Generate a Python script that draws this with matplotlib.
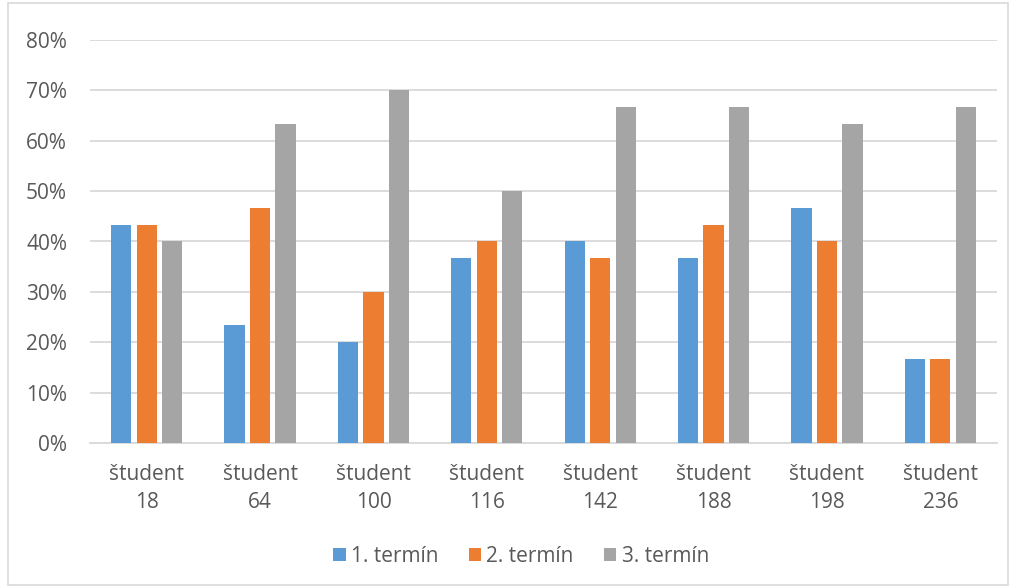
import matplotlib
matplotlib.use("Agg")
import matplotlib.pyplot as plt
from matplotlib.patches import Rectangle
import numpy as np

students = ["študent\n18", "študent\n64", "študent\n100", "študent\n116",
            "študent\n142", "študent\n188", "študent\n198", "študent\n236"]
term1 = [43.33, 23.33, 20.0, 36.67, 40.0, 36.67, 46.67, 16.67]
term2 = [43.33, 46.67, 30.0, 40.0, 36.67, 43.33, 40.0, 16.67]
term3 = [40.0, 63.33, 70.0, 50.0, 66.67, 66.67, 63.33, 66.67]
series_names = ["1. termín", "2. termín", "3. termín"]
colors = ["#5b9bd5", "#ed7d31", "#a5a5a5"]
yticks = [0, 10, 20, 30, 40, 50, 60, 70, 80]

plt.rcParams["font.family"] = ["Open Sans", "DejaVu Sans"]
text_color = "#595959"

fig = plt.figure(figsize=(10.15, 5.88), dpi=100)
ax = fig.add_axes([90 / 1015, 1 - 443 / 588, 907 / 1015, 403 / 588])

x = np.arange(len(students))
step = 0.225
width = 0.178
for i, (vals, name, c) in enumerate(zip([term1, term2, term3], series_names, colors)):
    ax.bar(x + (i - 1) * step, vals, width, color=c, label=name, zorder=3)

ax.set_xlim(-0.5, len(students) - 0.5)
ax.set_ylim(0, 80)
ax.set_yticks(yticks)
ax.set_yticklabels([f"{v}%" for v in yticks])
ax.set_xticks(x)
ax.set_xticklabels(students, linespacing=1.45)
ax.tick_params(axis="both", length=0, labelsize=15, colors=text_color)
ax.tick_params(axis="y", pad=16.5)
ax.tick_params(axis="x", pad=15)
ax.grid(axis="y", color="#d9d9d9", linewidth=1.3, zorder=0)
for s in ["top", "right", "left"]:
    ax.spines[s].set_visible(False)
ax.spines["bottom"].set_color("#d9d9d9")
ax.spines["bottom"].set_linewidth(1.3)

leg = fig.legend(loc="center", bbox_to_anchor=(521 / 1015, 1 - 556 / 588), ncol=3,
                 frameon=False, fontsize=15, handlelength=0.6, handleheight=0.6,
                 handletextpad=0.25, columnspacing=1.45)
for t in leg.get_texts():
    t.set_color(text_color)

fig.patches.append(Rectangle((8 / 1015, 3 / 588), 1000 / 1015, 582 / 588,
                             transform=fig.transFigure, fill=False,
                             edgecolor="#d9d9d9", linewidth=1.2))

fig.savefig("out.png", dpi=100, facecolor="white")
